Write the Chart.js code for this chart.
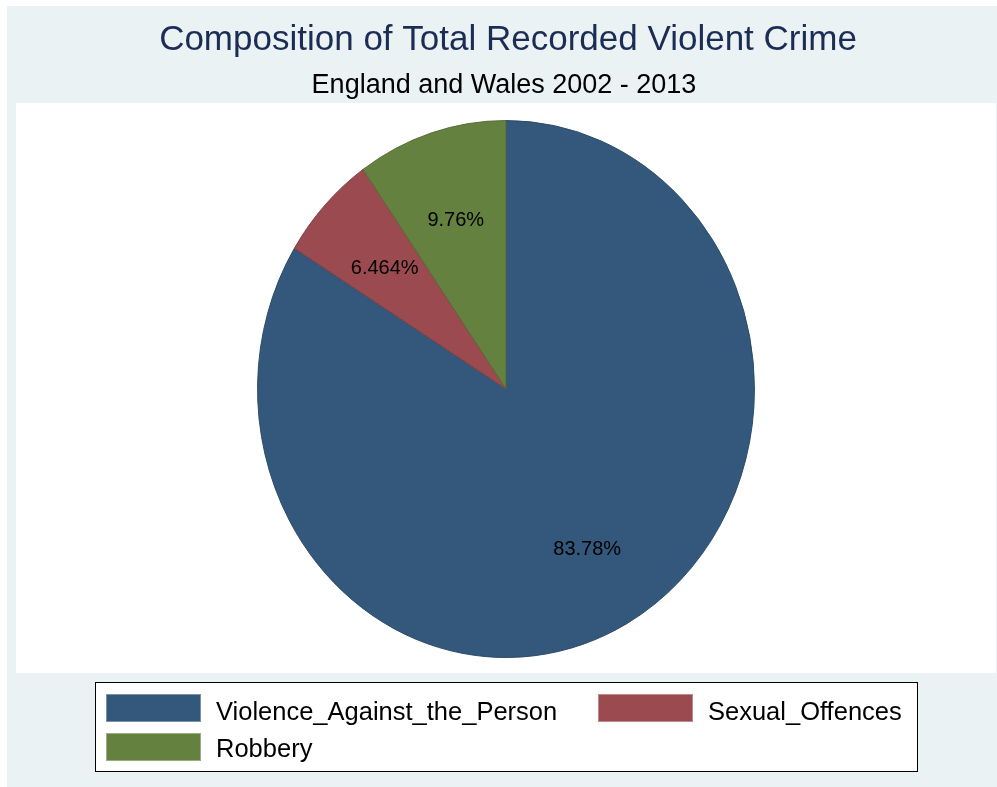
<!DOCTYPE html>
<html>
<head>
<meta charset="utf-8">
<script src="https://cdn.jsdelivr.net/npm/chart.js@4.4.1/dist/chart.umd.min.js"></script>
<style>
  html, body { margin: 0; padding: 0; background: #ffffff; }
  #wrap { width: 997px; height: 787px; position: relative; }
</style>
</head>
<body>
<div id="wrap"><canvas id="pieChart"></canvas></div>
<script>
// data (percent of total)
const categories = ['Violence_Against_the_Person', 'Sexual_Offences', 'Robbery'];
const shares = [83.78, 6.464, 9.76];
const sliceColors = ['#33587b', '#9b4a50', '#658140'];
const edgeColors = ['#2a4a68', '#843d43', '#546c34'];

const titleText = 'Composition of Total Recorded Violent Crime';
const subtitleText = 'England and Wales 2002 - 2013';

const FONT = '"Liberation Sans", Arial, Helvetica, sans-serif';
const X_SQUASH = 248 / 268; // Stata draws the pie a bit narrower than tall

// background, title, plot region
const backdrop = {
    id: 'backdrop',
    beforeDraw(chart) {
        const ctx = chart.ctx;
        ctx.save();
        ctx.fillStyle = '#ffffff';
        ctx.fillRect(0, 0, chart.width, chart.height);
        ctx.fillStyle = '#eaf2f3';
        ctx.fillRect(7, 6, 990, 781);
        ctx.fillStyle = '#ffffff';
        ctx.fillRect(16, 103, 980, 570);

        ctx.textAlign = 'center';
        ctx.textBaseline = 'alphabetic';
        ctx.fillStyle = '#1c2d55';
        ctx.font = '35px ' + FONT;
        ctx.fillText(titleText, 508, 50);
        ctx.fillStyle = '#000000';
        ctx.font = '27px ' + FONT;
        ctx.fillText(subtitleText, 504, 93);
        ctx.restore();
    },
    // squash the pie into an ellipse like the original
    beforeDatasetsDraw(chart) {
        const arc = chart.getDatasetMeta(0).data[0];
        const ctx = chart.ctx;
        ctx.save();
        ctx.translate(arc.x, arc.y);
        ctx.scale(X_SQUASH, 1);
        ctx.translate(-arc.x, -arc.y);
    },
    afterDatasetsDraw(chart) {
        chart.ctx.restore();
    }
};

// percentage labels inside the slices
const sliceLabels = {
    id: 'sliceLabels',
    afterDatasetsDraw(chart) {
        const ctx = chart.ctx;
        const values = chart.data.datasets[0].data;
        const total = values.reduce((a, b) => a + b, 0);
        ctx.save();
        ctx.font = '20px ' + FONT;
        ctx.fillStyle = '#000000';
        ctx.textAlign = 'center';
        ctx.textBaseline = 'middle';
        chart.getDatasetMeta(0).data.forEach((arc, i) => {
            const p = arc.getProps(['x', 'y', 'startAngle', 'endAngle', 'outerRadius'], true);
            const mid = (p.startAngle + p.endAngle) / 2;
            const r = p.outerRadius * 0.67;
            const x = p.x + Math.cos(mid) * r * X_SQUASH;
            const y = p.y + Math.sin(mid) * r + 3;
            const pct = parseFloat((values[i] / total * 100).toPrecision(4));
            ctx.fillText(pct + '%', x, y);
        });
        ctx.restore();
    }
};

// legend box at the bottom
const legendBox = {
    id: 'legendBox',
    afterDraw(chart) {
        const ctx = chart.ctx;
        const labels = chart.data.labels;
        const colors = chart.data.datasets[0].backgroundColor;
        ctx.save();
        ctx.fillStyle = '#ffffff';
        ctx.fillRect(96, 683, 821, 88);
        ctx.strokeStyle = '#000000';
        ctx.lineWidth = 1;
        ctx.strokeRect(95.5, 682.5, 822, 89);

        const slots = [[106, 694, 720], [598, 694, 720], [106, 733, 757]];
        ctx.font = '25.5px ' + FONT;
        ctx.textAlign = 'left';
        ctx.textBaseline = 'alphabetic';
        labels.forEach((lab, i) => {
            const [sx, sy, ty] = slots[i];
            ctx.fillStyle = colors[i];
            ctx.fillRect(sx, sy, 95, 28);
            ctx.strokeStyle = 'rgba(255,255,255,0.35)';
            ctx.strokeRect(sx + 0.5, sy + 0.5, 94, 27);
            ctx.fillStyle = '#000000';
            ctx.fillText(lab, sx + 110, ty);
        });
        ctx.restore();
    }
};

new Chart(document.getElementById('pieChart').getContext('2d'), {
    type: 'pie',
    data: {
        labels: categories,
        datasets: [{
            data: shares,
            backgroundColor: sliceColors,
            borderColor: edgeColors,
            borderWidth: 1,
            hoverOffset: 0,
            offset: 0
        }]
    },
    options: {
        responsive: true,
        maintainAspectRatio: false,
        animation: false,
        events: [],
        layout: {
            padding: { top: 120, bottom: 129, left: 110, right: 95 }
        },
        plugins: {
            legend: { display: false },
            tooltip: { enabled: false },
            title: { display: false }
        }
    },
    plugins: [backdrop, sliceLabels, legendBox]
});
</script>
</body>
</html>
